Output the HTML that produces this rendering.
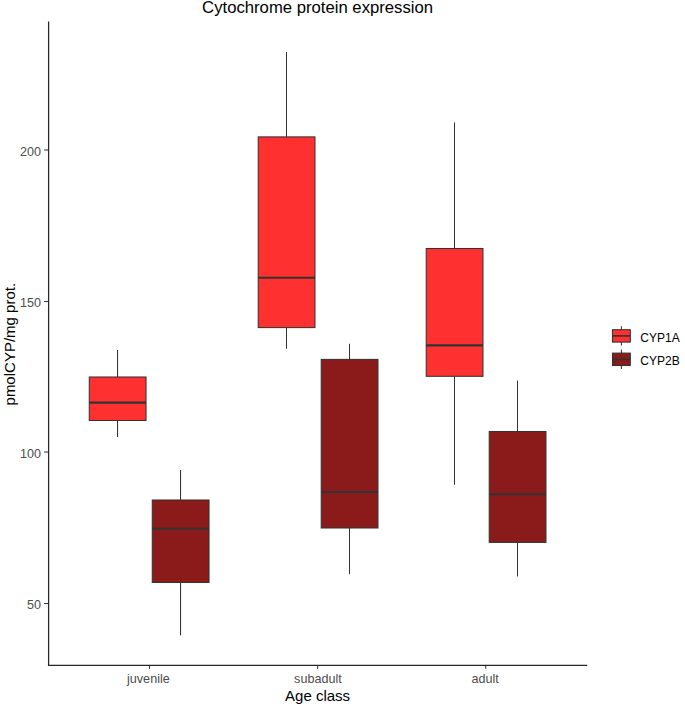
<!DOCTYPE html>
<html><head><meta charset="utf-8"><style>
html,body{margin:0;padding:0;background:#fff;overflow:hidden;}
svg{display:block;font-family:"Liberation Sans",sans-serif;}
</style></head><body>
<svg width="685" height="708" viewBox="0 0 685 708">
<rect width="685" height="708" fill="#fff"/>
<line x1="117.55" y1="350.00" x2="117.55" y2="377.00" stroke="#333333" stroke-width="1.05"/>
<line x1="117.55" y1="420.50" x2="117.55" y2="437.00" stroke="#333333" stroke-width="1.05"/>
<rect x="89.28" y="377.00" width="56.74" height="43.50" fill="#FF3030" stroke="#333333" stroke-width="1.05"/>
<line x1="89.28" y1="402.60" x2="146.02" y2="402.60" stroke="#333333" stroke-width="2.1"/>
<line x1="180.55" y1="470.00" x2="180.55" y2="500.00" stroke="#333333" stroke-width="1.05"/>
<line x1="180.55" y1="582.50" x2="180.55" y2="635.30" stroke="#333333" stroke-width="1.05"/>
<rect x="152.28" y="500.00" width="56.74" height="82.50" fill="#8B1A1A" stroke="#333333" stroke-width="1.05"/>
<line x1="152.28" y1="528.70" x2="209.02" y2="528.70" stroke="#333333" stroke-width="2.1"/>
<line x1="286.50" y1="51.90" x2="286.50" y2="136.90" stroke="#333333" stroke-width="1.05"/>
<line x1="286.50" y1="327.60" x2="286.50" y2="348.80" stroke="#333333" stroke-width="1.05"/>
<rect x="258.23" y="136.90" width="56.74" height="190.70" fill="#FF3030" stroke="#333333" stroke-width="1.05"/>
<line x1="258.23" y1="277.70" x2="314.97" y2="277.70" stroke="#333333" stroke-width="2.1"/>
<line x1="349.50" y1="343.80" x2="349.50" y2="359.40" stroke="#333333" stroke-width="1.05"/>
<line x1="349.50" y1="528.00" x2="349.50" y2="574.20" stroke="#333333" stroke-width="1.05"/>
<rect x="321.23" y="359.40" width="56.74" height="168.60" fill="#8B1A1A" stroke="#333333" stroke-width="1.05"/>
<line x1="321.23" y1="492.00" x2="377.97" y2="492.00" stroke="#333333" stroke-width="2.1"/>
<line x1="454.50" y1="122.40" x2="454.50" y2="248.50" stroke="#333333" stroke-width="1.05"/>
<line x1="454.50" y1="376.30" x2="454.50" y2="484.80" stroke="#333333" stroke-width="1.05"/>
<rect x="426.23" y="248.50" width="56.74" height="127.80" fill="#FF3030" stroke="#333333" stroke-width="1.05"/>
<line x1="426.23" y1="345.40" x2="482.97" y2="345.40" stroke="#333333" stroke-width="2.1"/>
<line x1="517.50" y1="380.50" x2="517.50" y2="431.50" stroke="#333333" stroke-width="1.05"/>
<line x1="517.50" y1="542.40" x2="517.50" y2="576.40" stroke="#333333" stroke-width="1.05"/>
<rect x="489.23" y="431.50" width="56.74" height="110.90" fill="#8B1A1A" stroke="#333333" stroke-width="1.05"/>
<line x1="489.23" y1="494.20" x2="545.97" y2="494.20" stroke="#333333" stroke-width="2.1"/>
<line x1="48.6" y1="22.0" x2="48.6" y2="665.4" stroke="#262626" stroke-width="1.25" stroke-linecap="square"/>
<line x1="48.6" y1="665.4" x2="586.6" y2="665.4" stroke="#262626" stroke-width="1.25" stroke-linecap="square"/>
<line x1="44.10" y1="150.00" x2="48.60" y2="150.00" stroke="#333333" stroke-width="1.05"/>
<text transform="translate(40.9 155.50) scale(0.955 1)" text-anchor="end" font-size="13.2" fill="#4D4D4D">200</text>
<line x1="44.10" y1="301.50" x2="48.60" y2="301.50" stroke="#333333" stroke-width="1.05"/>
<text transform="translate(40.9 307.00) scale(0.955 1)" text-anchor="end" font-size="13.2" fill="#4D4D4D">150</text>
<line x1="44.10" y1="452.00" x2="48.60" y2="452.00" stroke="#333333" stroke-width="1.05"/>
<text transform="translate(40.9 457.50) scale(0.955 1)" text-anchor="end" font-size="13.2" fill="#4D4D4D">100</text>
<line x1="44.10" y1="603.50" x2="48.60" y2="603.50" stroke="#333333" stroke-width="1.05"/>
<text transform="translate(40.9 609.00) scale(0.955 1)" text-anchor="end" font-size="13.2" fill="#4D4D4D">50</text>
<line x1="149.47" y1="665.40" x2="149.47" y2="668.80" stroke="#333333" stroke-width="1.05"/>
<text transform="translate(148.38 682.90) scale(0.955 1)" text-anchor="middle" font-size="13.2" fill="#4D4D4D">juvenile</text>
<line x1="317.60" y1="665.40" x2="317.60" y2="668.80" stroke="#333333" stroke-width="1.05"/>
<text transform="translate(317.90 682.90) scale(0.955 1)" text-anchor="middle" font-size="13.2" fill="#4D4D4D">subadult</text>
<line x1="485.73" y1="665.40" x2="485.73" y2="668.80" stroke="#333333" stroke-width="1.05"/>
<text transform="translate(485.12 682.90) scale(0.955 1)" text-anchor="middle" font-size="13.2" fill="#4D4D4D">adult</text>
<text x="317.60" y="12.7" text-anchor="middle" font-size="16.7" fill="#000">Cytochrome protein expression</text>
<text x="317.60" y="700.8" text-anchor="middle" font-size="15" fill="#000">Age class</text>
<text transform="translate(14.7 344.20) rotate(-90)" text-anchor="middle" font-size="15" fill="#000">pmolCYP/mg prot.</text>
<line x1="621.4" y1="326.20" x2="621.4" y2="345.60" stroke="#333333" stroke-width="1.05"/>
<rect x="612.50" y="329.70" width="17.8" height="12.4" fill="#FF3030" stroke="#333333" stroke-width="1.05"/>
<line x1="612.50" y1="335.90" x2="630.30" y2="335.90" stroke="#333333" stroke-width="1.6"/>
<text x="640.3" y="341.60" font-size="12" fill="#000">CYP1A</text>
<line x1="621.4" y1="349.60" x2="621.4" y2="369.00" stroke="#333333" stroke-width="1.05"/>
<rect x="612.50" y="353.10" width="17.8" height="12.4" fill="#8B1A1A" stroke="#333333" stroke-width="1.05"/>
<line x1="612.50" y1="359.30" x2="630.30" y2="359.30" stroke="#333333" stroke-width="1.6"/>
<text x="640.3" y="365.00" font-size="12" fill="#000">CYP2B</text>
</svg>
</body></html>
